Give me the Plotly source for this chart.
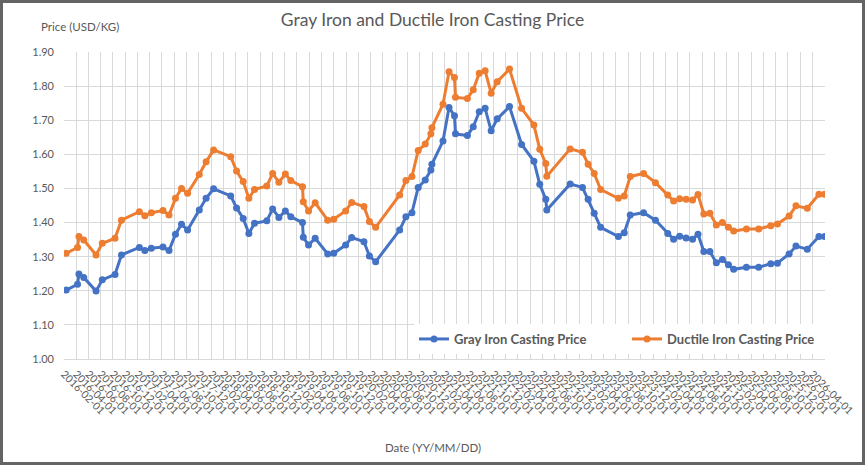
import plotly.graph_objects as go

# chart data
dates = [
    "2016-02-12", "2016-04-08", "2016-04-15", "2016-05-09", "2016-07-09", "2016-08-09",
    "2016-10-11", "2016-11-12", "2017-02-09", "2017-03-08", "2017-04-09", "2017-06-06",
    "2017-07-06", "2017-08-07", "2017-09-06", "2017-10-06", "2017-12-03", "2018-01-06",
    "2018-02-12", "2018-05-08", "2018-06-06", "2018-07-09", "2018-08-06", "2018-09-03",
    "2018-11-03", "2018-12-02", "2019-01-02", "2019-02-03", "2019-03-02", "2019-04-29",
    "2019-05-03", "2019-05-29", "2019-07-01", "2019-09-01", "2019-10-01", "2019-11-29",
    "2019-12-29", "2020-02-28", "2020-03-26", "2020-04-26", "2020-08-23", "2020-09-23",
    "2020-10-23", "2020-11-23", "2020-12-28", "2021-01-25", "2021-01-30", "2021-03-26",
    "2021-04-25", "2021-05-22", "2021-05-27", "2021-07-25", "2021-08-23", "2021-09-22",
    "2021-10-21", "2021-11-20", "2021-12-20", "2022-02-19", "2022-04-20", "2022-06-20",
    "2022-07-19", "2022-08-18", "2022-08-23", "2022-12-17", "2023-02-16", "2023-03-16",
    "2023-04-15", "2023-05-17", "2023-08-13", "2023-09-11", "2023-10-11", "2023-12-16",
    "2024-02-13", "2024-04-14", "2024-05-13", "2024-06-12", "2024-07-14", "2024-08-15",
    "2024-09-11", "2024-10-10", "2024-11-09", "2024-12-11", "2025-01-10", "2025-02-09",
    "2025-03-07", "2025-05-09", "2025-07-09", "2025-09-07", "2025-10-10", "2025-12-07",
    "2026-01-10", "2026-03-07", "2026-05-04", "2026-06-01",
]

gray_iron = [
    1.202, 1.219, 1.249, 1.239, 1.199, 1.232,
    1.248, 1.305, 1.327, 1.318, 1.325, 1.328,
    1.318, 1.366, 1.395, 1.378, 1.437, 1.471,
    1.499, 1.478, 1.443, 1.412, 1.368, 1.398,
    1.405, 1.440, 1.415, 1.434, 1.417, 1.400,
    1.357, 1.334, 1.354, 1.308, 1.310, 1.334,
    1.356, 1.344, 1.302, 1.285, 1.378, 1.417,
    1.429, 1.503, 1.525, 1.554, 1.571, 1.639,
    1.737, 1.713, 1.660, 1.655, 1.681, 1.725,
    1.735, 1.669, 1.704, 1.740, 1.629, 1.580,
    1.512, 1.468, 1.437, 1.513, 1.503, 1.468,
    1.427, 1.386, 1.359, 1.370, 1.422, 1.429,
    1.407, 1.368, 1.351, 1.360, 1.355, 1.351,
    1.366, 1.315, 1.315, 1.282, 1.292, 1.276,
    1.263, 1.269, 1.269, 1.279, 1.281, 1.308,
    1.331, 1.322, 1.359, 1.359,
]

ductile_iron = [
    1.310, 1.327, 1.359, 1.349, 1.305, 1.339,
    1.354, 1.407, 1.432, 1.420, 1.429, 1.435,
    1.422, 1.471, 1.500, 1.486, 1.541, 1.578,
    1.613, 1.593, 1.551, 1.520, 1.471, 1.497,
    1.507, 1.544, 1.518, 1.542, 1.523, 1.505,
    1.461, 1.434, 1.458, 1.407, 1.410, 1.434,
    1.459, 1.447, 1.403, 1.386, 1.481, 1.523,
    1.535, 1.611, 1.630, 1.660, 1.678, 1.747,
    1.842, 1.825, 1.767, 1.764, 1.789, 1.838,
    1.845, 1.779, 1.813, 1.850, 1.735, 1.686,
    1.615, 1.573, 1.536, 1.616, 1.606, 1.571,
    1.544, 1.497, 1.471, 1.478, 1.535, 1.544,
    1.517, 1.481, 1.463, 1.470, 1.468, 1.466,
    1.482, 1.425, 1.427, 1.393, 1.400, 1.386,
    1.375, 1.381, 1.381, 1.391, 1.396, 1.419,
    1.449, 1.442, 1.483, 1.483,
]

BLUE = "#4472C4"
ORANGE = "#ED7D31"
TEXT = "#595959"
GRID = "#D9D9D9"
FONT = "Lato, 'Open Sans', sans-serif"

W, H = 865, 465
ML, MR, MT, MB = 64, 40, 52, 106

fig = go.Figure()
fig.add_trace(go.Scatter(
    x=dates, y=gray_iron, mode="lines+markers", name="Gray Iron Casting Price",
    line=dict(color=BLUE, width=3), marker=dict(color=BLUE, size=7),
))
fig.add_trace(go.Scatter(
    x=dates, y=ductile_iron, mode="lines+markers", name="Ductile Iron Casting Price",
    line=dict(color=ORANGE, width=3), marker=dict(color=ORANGE, size=7),
))

pw = W - ML - MR
ph = H - MT - MB

fig.update_layout(
    width=W, height=H, autosize=False,
    margin=dict(l=ML, r=MR, t=MT, b=MB, autoexpand=False),
    paper_bgcolor="white", plot_bgcolor="white",
    font=dict(family=FONT, color=TEXT, size=10),
    title=dict(text="Gray Iron and Ductile Iron Casting Price", x=0.5, xanchor="center",
               y=1 - 20 / H, yanchor="middle", xref="container",
               font=dict(size=17.5, color=TEXT, family=FONT)),
    showlegend=True,
    legend=dict(orientation="h", x=(414 - ML) / pw, y=(359 - 339) / ph,
                xanchor="left", yanchor="middle", bgcolor="white",
                font=dict(size=13, color=TEXT, family=FONT, weight="bold"),
                itemwidth=30, entrywidth=168, traceorder="normal"),
    xaxis=dict(
        type="date", range=["2016-02-01", "2026-06-03"],
        tick0="2016-02-01", dtick="M2", tickformat="%Y-%m-%d", tickangle=45,
        showgrid=True, gridcolor=GRID, gridwidth=1, automargin=False,
        showline=True, linecolor=GRID, ticks="", ticklabelstandoff=4,
        tickfont=dict(size=10.5, color=TEXT), zeroline=False,
    ),
    yaxis=dict(
        range=[1.0, 1.9], dtick=0.1, tickformat=".2f", automargin=False,
        showgrid=True, gridcolor=GRID, gridwidth=1, ticklabelstandoff=9,
        showline=False, ticks="", zeroline=False,
        tickfont=dict(size=11, color=TEXT),
    ),
    annotations=[
        dict(text="Price (USD/KG)", xref="paper", yref="paper",
             x=(39 - ML) / pw, y=1 + (MT - 27) / ph, xanchor="left", yanchor="middle",
             showarrow=False, font=dict(size=11.5, color=TEXT, family=FONT)),
        dict(text="Date (YY/MM/DD)", xref="paper", yref="paper",
             x=(433 - ML) / pw, y=-(447 - MT - ph) / ph, xanchor="center", yanchor="middle",
             showarrow=False, font=dict(size=11.5, color=TEXT, family=FONT)),
    ],
    shapes=[
        dict(type="rect", xref="paper", yref="paper",
             x0=-(ML - 1.5) / pw, x1=1 + (MR - 1.5) / pw,
             y0=-(MB - 1.5) / ph, y1=1 + (MT - 1.5) / ph,
             line=dict(color="#646464", width=3), fillcolor="rgba(0,0,0,0)"),
    ],
)

fig.write_html("out.html", config={"displayModeBar": False},
               post_script="document.body.style.margin='0';")
